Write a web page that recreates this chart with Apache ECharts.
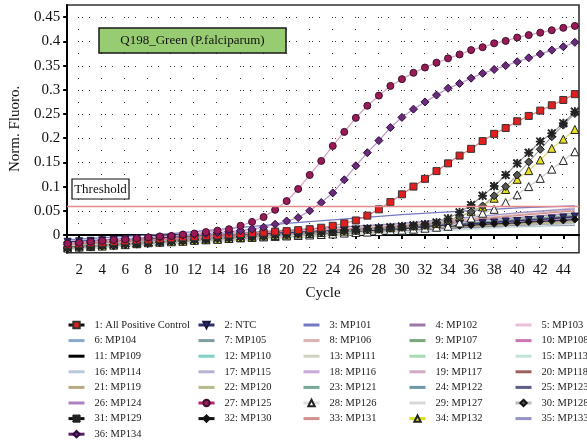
<!DOCTYPE html>
<html>
<head>
<meta charset="utf-8">
<script src="https://cdn.jsdelivr.net/npm/echarts@6.0.0/dist/echarts.min.js"></script>
<style>
html, body { margin: 0; padding: 0; background: #fff; }
#chart { width: 587px; height: 442px; }
</style>
</head>
<body>
<div id="chart"></div>
<script>
// cycles and tick labels
const cycles = [1,2,3,4,5,6,7,8,9,10,11,12,13,14,15,16,17,18,19,20,21,22,23,24,25,26,27,28,29,30,31,32,33,34,35,36,37,38,39,40,41,42,43,44,45];
const xTicks = [2,4,6,8,10,12,14,16,18,20,22,24,26,28,30,32,34,36,38,40,42,44];
const yTicks = [0,0.05,0.1,0.15,0.2,0.25,0.3,0.35,0.4,0.45];
const yMinor = [-0.025,0.025,0.075,0.125,0.175,0.225,0.275,0.325,0.375,0.425];
const threshold = 0.064;

const seriesNames = [
  '1: All Positive Control','2: NTC','3: MP101','4: MP102','5: MP103',
  '6: MP104','7: MP105','8: MP106','9: MP107','10: MP108',
  '11: MP109','12: MP110','13: MP111','14: MP112','15: MP113',
  '16: MP114','17: MP115','18: MP116','19: MP117','20: MP118',
  '21: MP119','22: MP120','23: MP121','24: MP122','25: MP123',
  '26: MP124','27: MP125','28: MP126','29: MP127','30: MP128',
  '31: MP129','32: MP130','33: MP131','34: MP132','35: MP133',
  '36: MP134'
];

// samples read at every cycle (series drawn with markers)
const s1 = [-0.020,-0.019,-0.017,-0.016,-0.014,-0.013,-0.011,-0.010,-0.008,-0.007,
  -0.005,-0.004,-0.002,-0.001,0.001,0.002,0.004,0.005,0.007,0.008,
  0.010,0.012,0.015,0.019,0.024,0.030,0.040,0.053,0.068,0.084,
  0.100,0.116,0.132,0.148,0.164,0.178,0.194,0.209,0.221,0.235,
  0.246,0.257,0.268,0.279,0.291];
const s2 = [-0.014,-0.013,-0.012,-0.011,-0.010,-0.009,-0.008,-0.007,-0.006,-0.005,
  -0.004,-0.003,-0.002,-0.001,0.000,0.001,0.002,0.003,0.004,0.005,
  0.006,0.007,0.008,0.009,0.010,0.011,0.012,0.013,0.014,0.016,
  0.017,0.018,0.019,0.021,0.022,0.023,0.025,0.026,0.028,0.029,
  0.031,0.032,0.034,0.036,0.038];
const s27 = [-0.018,-0.016,-0.014,-0.012,-0.010,-0.009,-0.007,-0.005,-0.003,-0.002,
  0.001,0.003,0.006,0.009,0.012,0.019,0.027,0.037,0.052,0.070,
  0.095,0.124,0.153,0.184,0.213,0.242,0.267,0.288,0.308,0.322,
  0.335,0.346,0.356,0.365,0.373,0.382,0.388,0.396,0.401,0.408,
  0.413,0.418,0.423,0.428,0.432];
const s28 = [-0.022,-0.021,-0.020,-0.019,-0.017,-0.016,-0.015,-0.014,-0.013,-0.012,
  -0.011,-0.010,-0.009,-0.008,-0.007,-0.006,-0.005,-0.004,-0.003,-0.002,
  -0.001,0.000,0.001,0.002,0.004,0.005,0.006,0.007,0.009,0.010,
  0.012,0.014,0.016,0.018,0.025,0.035,0.045,0.053,0.067,0.083,
  0.100,0.117,0.136,0.154,0.172];
const s30 = [-0.028,-0.026,-0.025,-0.023,-0.022,-0.020,-0.019,-0.017,-0.016,-0.014,
  -0.013,-0.011,-0.010,-0.008,-0.007,-0.005,-0.004,-0.003,-0.001,0.000,
  0.002,0.003,0.005,0.006,0.008,0.009,0.011,0.012,0.014,0.016,
  0.018,0.020,0.023,0.029,0.037,0.048,0.060,0.081,0.100,0.124,
  0.151,0.177,0.203,0.227,0.251];
const s31 = [-0.026,-0.024,-0.023,-0.021,-0.020,-0.018,-0.017,-0.015,-0.014,-0.012,
  -0.011,-0.009,-0.008,-0.006,-0.005,-0.003,-0.002,0.000,0.001,0.002,
  0.004,0.005,0.007,0.008,0.010,0.011,0.013,0.014,0.016,0.018,
  0.020,0.022,0.026,0.034,0.047,0.062,0.081,0.101,0.124,0.148,
  0.170,0.193,0.210,0.231,0.255];
const s32 = [-0.024,-0.023,-0.022,-0.020,-0.019,-0.018,-0.016,-0.015,-0.014,-0.013,
  -0.011,-0.010,-0.009,-0.008,-0.006,-0.005,-0.004,-0.003,-0.001,0.000,
  0.001,0.002,0.004,0.005,0.006,0.007,0.009,0.010,0.011,0.012,
  0.014,0.015,0.016,0.018,0.019,0.020,0.022,0.023,0.024,0.025,
  0.027,0.028,0.029,0.030,0.032];
const s34 = [-0.027,-0.025,-0.024,-0.023,-0.021,-0.020,-0.018,-0.016,-0.015,-0.014,
  -0.013,-0.011,-0.010,-0.009,-0.007,-0.005,-0.004,-0.002,-0.001,0.000,
  0.002,0.003,0.005,0.007,0.008,0.010,0.012,0.013,0.015,0.017,
  0.019,0.021,0.024,0.031,0.038,0.049,0.058,0.076,0.094,0.115,
  0.133,0.155,0.179,0.198,0.218];
const s36 = [-0.016,-0.015,-0.013,-0.011,-0.010,-0.008,-0.007,-0.005,-0.004,-0.002,
  0.000,0.001,0.003,0.005,0.007,0.009,0.012,0.016,0.022,0.029,
  0.036,0.050,0.067,0.087,0.114,0.143,0.170,0.195,0.222,0.243,
  0.260,0.275,0.289,0.303,0.313,0.324,0.334,0.342,0.350,0.358,
  0.366,0.374,0.382,0.389,0.398];

// flat runs, read at a few cycles only
const sparseCycles = [1, 10, 20, 30, 40, 45];
const s3  = [-0.010, 0.003, 0.024, 0.042, 0.056, 0.060];
const s4  = [-0.018,-0.008, 0.004, 0.018, 0.036, 0.046];
const s5  = [-0.015,-0.005, 0.007, 0.022, 0.045, 0.056];
const s6  = [-0.022,-0.012, 0.000, 0.012, 0.025, 0.030];
const s7  = [-0.024,-0.013,-0.001, 0.012, 0.026, 0.032];
const s8  = [-0.016,-0.006, 0.006, 0.020, 0.042, 0.052];
const s9  = [-0.020,-0.010, 0.002, 0.016, 0.032, 0.040];
const s10 = [-0.019,-0.009, 0.003, 0.014, 0.027, 0.030];
const s11 = [-0.021,-0.011, 0.001, 0.014, 0.030, 0.036];
const s12 = [-0.025,-0.015,-0.002, 0.009, 0.020, 0.024];
const s13 = [-0.023,-0.013,-0.001, 0.011, 0.023, 0.028];
const s14 = [-0.026,-0.016,-0.003, 0.010, 0.022, 0.027];
const s15 = [-0.030,-0.019,-0.006, 0.005, 0.016, 0.020];
const s16 = [-0.028,-0.017,-0.004, 0.008, 0.019, 0.023];
const s17 = [-0.027,-0.016,-0.004, 0.008, 0.021, 0.025];
const s18 = [-0.024,-0.014,-0.002, 0.011, 0.024, 0.029];
const s19 = [-0.022,-0.012, 0.000, 0.013, 0.028, 0.034];
const s20 = [-0.020,-0.010, 0.002, 0.015, 0.031, 0.038];
const s21 = [-0.025,-0.014,-0.002, 0.010, 0.023, 0.027];
const s22 = [-0.026,-0.015,-0.003, 0.009, 0.022, 0.026];
const s23 = [-0.021,-0.011, 0.001, 0.014, 0.032, 0.042];
const s24 = [-0.023,-0.012, 0.000, 0.013, 0.029, 0.035];
const s25 = [-0.024,-0.014,-0.002, 0.009, 0.019, 0.021];
const s26 = [-0.019,-0.009, 0.003, 0.015, 0.028, 0.033];
const s29 = [-0.029,-0.018,-0.005, 0.007, 0.018, 0.022];
const s33 = [-0.017,-0.007, 0.005, 0.019, 0.040, 0.050];
const s35 = [-0.013,-0.003, 0.010, 0.024, 0.046, 0.054];

const fullData = {1: s1, 2: s2, 27: s27, 28: s28, 30: s30, 31: s31, 32: s32, 34: s34, 36: s36};
const sparseData = {3: s3, 4: s4, 5: s5, 6: s6, 7: s7, 8: s8, 9: s9, 10: s10, 11: s11, 12: s12,
  13: s13, 14: s14, 15: s15, 16: s16, 17: s17, 18: s18, 19: s19, 20: s20, 21: s21, 22: s22,
  23: s23, 24: s24, 25: s25, 26: s26, 29: s29, 33: s33, 35: s35};

const asterisk = 'path://M4.4,0H5.6V10H4.4Z M0,4.4H10V5.6H0Z M1,0L5,4L9,0L10,1L6,5L10,9L9,10L5,6L1,10L0,9L4,5L0,1Z';

const styles = {
  1: {line: '#e27b7b', legendLine: '#111', symbol: 'rect', size: 7, fill: '#e41e1e', border: '#333'},
  2: {line: '#2e3070', symbol: 'triangle', rotate: 180, size: 7, fill: '#2e3070', border: '#1a1a40'},
  3: {line: '#7478c0'}, 4: {line: '#9a78a8'}, 5: {line: '#e8c0dc'}, 6: {line: '#88aacc'},
  7: {line: '#7e9e9e'}, 8: {line: '#dcb2b2'}, 9: {line: '#7aa67a'}, 10: {line: '#c878b0'},
  11: {line: '#000000'}, 12: {line: '#7ecfc6'}, 13: {line: '#d2d2c2'}, 14: {line: '#a8dab2'},
  15: {line: '#c2e2da'}, 16: {line: '#b8c8d8'}, 17: {line: '#b8b2d2'}, 18: {line: '#c8aad8'},
  19: {line: '#d2aac2'}, 20: {line: '#a06060'}, 21: {line: '#b8aa80'}, 22: {line: '#b8ba8a'},
  23: {line: '#78a898'}, 24: {line: '#6e98a8'}, 25: {line: '#5e5e88'}, 26: {line: '#b080c2'},
  27: {line: '#d4a2bc', legendLine: '#c0206a', symbol: 'circle', size: 7, fill: '#9b1a55', border: '#3a1030'},
  28: {line: '#cfcfcf', legendLine: '#dddddd', symbol: 'triangle', size: 8, fill: '#ffffff', border: '#222'},
  29: {line: '#d8d8d8'},
  30: {line: '#a8a8a8', legendLine: '#bbbbbb', symbol: 'diamond', size: 8, fill: '#555', border: '#111'},
  31: {line: '#9a9a9a', legendLine: '#111', symbol: asterisk, size: 8, fill: '#222', border: '#222'},
  32: {line: '#333333', legendLine: '#111', symbol: 'diamond', size: 7, fill: '#111', border: '#111'},
  33: {line: '#d09090'},
  34: {line: '#e0e070', legendLine: '#d8e020', symbol: 'triangle', size: 8, fill: '#e8e020', border: '#222'},
  35: {line: '#9494c4'},
  36: {line: '#b894c8', legendLine: '#5a2068', symbol: 'diamond', size: 8, fill: '#6b2a7a', border: '#2a0a3a'}
};

const font = '"Liberation Serif", "DejaVu Serif", serif';
const drawOrder = [3,4,5,6,7,8,9,10,11,12,13,14,15,16,17,18,19,20,21,22,23,24,25,26,29,33,35,2,32,28,34,30,31,1,36,27];

let series = drawOrder.map(n => {
  const st = styles[n];
  const data = fullData[n]
    ? cycles.map((c, k) => [c, fullData[n][k]])
    : sparseCycles.map((c, k) => [c, sparseData[n][k]]);
  return {
    name: seriesNames[n - 1],
    type: 'line',
    data: data,
    symbol: st.symbol || 'none',
    symbolSize: st.size || 0,
    symbolRotate: st.rotate || 0,
    silent: true,
    lineStyle: {color: st.line, width: 1.2},
    itemStyle: {color: st.fill || st.line, borderColor: st.border || st.line, borderWidth: 1}
  };
});

series.unshift({
  name: 'threshold', type: 'line', data: [], silent: true,
  markLine: {silent: true, symbol: 'none', label: {show: false}, animation: false,
    lineStyle: {type: 'solid', color: '#e58a8a', width: 1.3}, data: [{yAxis: threshold}]}
});

const legendCols = [67, 197, 302, 408, 514];
const legends = legendCols.map((left, col) => ({
  orient: 'vertical',
  left: left,
  top: 319,
  padding: 0,
  itemWidth: 16,
  itemHeight: 8,
  itemGap: 3.6,
  selectedMode: false,
  lineStyle: {width: 3},
  textStyle: {fontFamily: font, fontSize: 10.5, color: '#222', padding: [0, 0, 0, 5], lineHeight: 12},
  data: seriesNames.filter((nm, i) => i % 5 === col).map(nm => {
    const st = styles[seriesNames.indexOf(nm) + 1];
    const item = {name: nm};
    if (st.legendLine) item.lineStyle = {color: st.legendLine};
    if (!st.symbol) item.itemStyle = {opacity: 0};
    return item;
  })
}));

const boxes = [
  {type: 'rect', shape: {x: 99, y: 28, width: 187, height: 25}, style: {fill: '#98cc72', stroke: '#1a1a1a', lineWidth: 1.5}, z: 100},
  {type: 'text', x: 192.5, y: 41, style: {text: 'Q198_Green (P.falciparum)', font: '13px ' + font, fill: '#111', align: 'center', verticalAlign: 'middle'}, z: 101},
  {type: 'rect', shape: {x: 72, y: 179, width: 57, height: 20}, style: {fill: '#fff', stroke: '#111', lineWidth: 1.2}, z: 100},
  {type: 'text', x: 100.5, y: 189.5, style: {text: 'Threshold', font: '13px ' + font, fill: '#111', align: 'center', verticalAlign: 'middle'}, z: 101}
];

let chart = echarts.init(document.getElementById('chart'));
chart.setOption({
  animation: false,
  backgroundColor: '#fff',
  grid: {left: 67, right: 8, top: 5, height: 247.7, show: true, borderColor: '#333', borderWidth: 1.6, backgroundColor: 'transparent'},
  xAxis: {
    type: 'value',
    min: 0.96,
    max: 45.36,
    name: 'Cycle',
    nameLocation: 'middle',
    nameGap: 33,
    nameTextStyle: {fontFamily: font, fontSize: 15, color: '#111'},
    axisLine: {lineStyle: {color: '#000', width: 2}},
    axisTick: {customValues: xTicks, length: 4, lineStyle: {color: '#000', width: 2}},
    axisLabel: {customValues: xTicks, margin: 10, fontFamily: font, fontSize: 15, color: '#111'},
    splitLine: {show: false}
  },
  yAxis: {
    type: 'value',
    min: -0.0366,
    max: 0.4752,
    name: 'Norm. Fluoro.',
    nameLocation: 'middle',
    nameGap: 44,
    nameTextStyle: {fontFamily: font, fontSize: 15, color: '#111'},
    axisLine: {show: true, lineStyle: {color: '#000', width: 2}},
    axisTick: {show: true, customValues: yTicks, length: 4, lineStyle: {color: '#000', width: 2}},
    axisLabel: {customValues: yTicks, margin: 7, fontFamily: font, fontSize: 15, color: '#111',
      formatter: v => String(+v.toFixed(2))},
    splitLine: {show: false}
  },
  legend: legends,
  graphic: boxes,
  series: series
});

// dotted lattice behind the curves, placed through the axes
const dots = [];
function dot(c, v, dx) {
  const p = chart.convertToPixel({gridIndex: 0}, [c, v]);
  dots.push({type: 'rect', silent: true, z: 0,
    shape: {x: Math.round(p[0] + dx), y: Math.round(p[1]), width: 1, height: 1},
    style: {fill: '#333'}});
}
yTicks.concat(yMinor).forEach(v => xTicks.forEach(c => dot(c, v, -1)));
yTicks.forEach(v => {
  cycles.forEach(c => { if (c % 2 === 1) dot(c, v, -2); });
  xTicks.forEach(c => dot(c, v, 2.5));
});
chart.setOption({graphic: boxes.concat(dots)});
</script>
</body>
</html>
